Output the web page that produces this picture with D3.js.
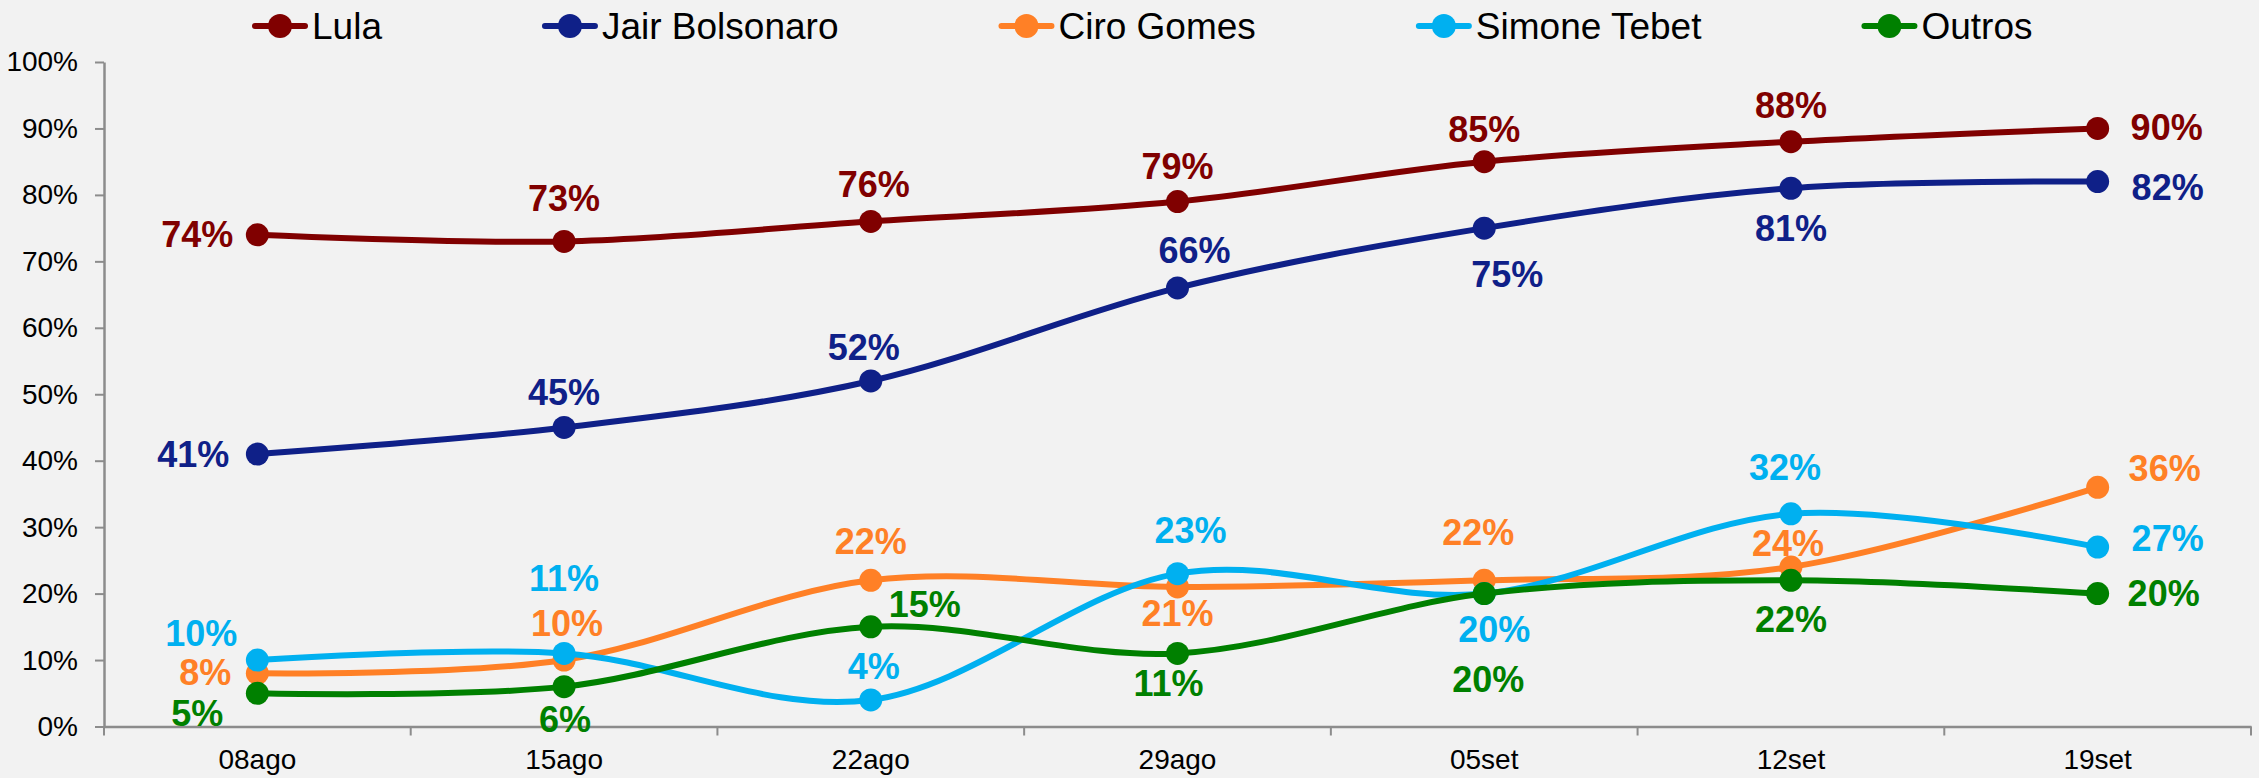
<!DOCTYPE html>
<html>
<head>
<meta charset="utf-8">
<script src="https://cdn.jsdelivr.net/npm/d3@7"></script>
<style>
  html, body { margin: 0; padding: 0; background: #f2f2f2; }
  svg { display: block; font-family: "Liberation Sans", Arial, sans-serif; }
</style>
</head>
<body>
<svg width="2259" height="778"></svg>
<script>
// poll values, percent
const dates = ['08ago', '15ago', '22ago', '29ago', '05set', '12set', '19set'];
const lula = [74, 73, 76, 79, 85, 88, 90];
const bolsonaro = [41, 45, 52, 66, 75, 81, 82];
const ciro = [8, 10, 22, 21, 22, 24, 36];
const simone = [10, 11, 4, 23, 20, 32, 27];
const outros = [5, 6, 15, 11, 20, 22, 20];
const names = ['Lula', 'Jair Bolsonaro', 'Ciro Gomes', 'Simone Tebet', 'Outros'];
const yTicks = [0, 10, 20, 30, 40, 50, 60, 70, 80, 90, 100];

const colors = ['#800000', '#0f2088', '#ff8026', '#00b0f0', '#008000'];

// label nudges [dx, dy] from each point
const labelPos = [
  [[-60, 0], [0, -43], [3, -37], [0, -35], [0, -32], [0, -36], [69, -1]],
  [[-64, 0], [0, -35], [-7, -33], [17, -37], [23, 46], [0, 40], [70, 6]],
  [[-52, -1], [3, -37], [0, -39], [0, 27], [-6, -48], [-3, -24], [67, -19]],
  [[-56, -27], [0, -75], [3, -33], [13, -43], [10, 36], [-6, -46], [70, -9]],
  [[-60, 20], [1, 33], [54, -22], [-9, 30], [4, 86], [0, 39], [66, 0]]
];

const series = [lula, bolsonaro, ciro, simone, outros].map((v, i) => ({
  name: names[i], color: colors[i], values: v, labels: labelPos[i]
}));

const svg = d3.select('svg');
svg.append('rect').attr('width', 2259).attr('height', 778).attr('fill', '#f2f2f2');

const x = d3.scaleBand().domain(dates).range([104, 2251]).padding(0);
const y = d3.scaleLinear().domain([0, 100]).range([726.5, 62]);
const cx = d => x(d) + x.bandwidth() / 2;

const axisColor = '#8c8c8c';

// y axis
const yAxis = svg.append('g')
  .attr('transform', 'translate(104,0)')
  .call(d3.axisLeft(y).tickValues(yTicks).tickFormat(d => d + '%').tickSize(9).tickPadding(17).tickSizeOuter(0));
yAxis.select('.domain').attr('stroke', axisColor).attr('stroke-width', 2.5);
yAxis.selectAll('.tick line').attr('stroke', axisColor).attr('stroke-width', 2);
yAxis.selectAll('text').attr('font-size', 28).attr('fill', '#000')
  .attr('font-family', '"Liberation Sans", Arial, sans-serif');

// x axis
const xAxis = svg.append('g')
  .attr('transform', 'translate(0,726.5)')
  .call(d3.axisBottom(x).tickSize(0).tickPadding(23).tickSizeOuter(0));
xAxis.select('.domain').attr('stroke', axisColor).attr('stroke-width', 2.5);
xAxis.selectAll('text').attr('font-size', 28).attr('fill', '#000')
  .attr('font-family', '"Liberation Sans", Arial, sans-serif');

const bounds = dates.map(d => x(d)).concat([x.range()[1]]);
xAxis.selectAll('.bound')
  .data(bounds)
  .enter()
  .append('line')
  .attr('class', 'bound')
  .attr('x1', d => d).attr('x2', d => d)
  .attr('y1', 0).attr('y2', 9)
  .attr('stroke', axisColor)
  .attr('stroke-width', 2);

// lines + markers
const line = d3.line()
  .x((d, i) => cx(dates[i]))
  .y(d => y(d))
  .curve(d3.curveCardinal.tension(0));

const g = svg.append('g');
series.forEach(s => {
  g.append('path')
    .datum(s.values)
    .attr('d', line)
    .attr('fill', 'none')
    .attr('stroke', s.color)
    .attr('stroke-width', 6);
  g.selectAll(null)
    .data(s.values)
    .enter()
    .append('circle')
    .attr('cx', (d, i) => cx(dates[i]))
    .attr('cy', d => y(d))
    .attr('r', 11.5)
    .attr('fill', s.color);
});

// data labels
series.forEach(s => {
  svg.selectAll(null)
    .data(s.values)
    .enter()
    .append('text')
    .attr('x', (d, i) => cx(dates[i]) + s.labels[i][0])
    .attr('y', (d, i) => y(d) + s.labels[i][1])
    .attr('text-anchor', 'middle')
    .attr('dominant-baseline', 'central')
    .attr('font-size', 36)
    .attr('font-weight', 'bold')
    .attr('fill', s.color)
    .text(d => d + '%');
});

// legend
const legend = svg.append('g').attr('transform', 'translate(252,26)');
let lx = 0;
series.forEach(s => {
  const item = legend.append('g').attr('transform', `translate(${lx},0)`);
  item.append('line')
    .attr('x1', 3).attr('x2', 53)
    .attr('stroke', s.color).attr('stroke-width', 6).attr('stroke-linecap', 'round');
  item.append('circle').attr('cx', 28).attr('r', 12).attr('fill', s.color);
  const t = item.append('text')
    .attr('x', 60)
    .attr('dominant-baseline', 'central')
    .attr('font-size', 37)
    .attr('fill', '#000')
    .text(s.name);
  lx += 60 + t.node().getComputedTextLength() + 160;
});
</script>
</body>
</html>
